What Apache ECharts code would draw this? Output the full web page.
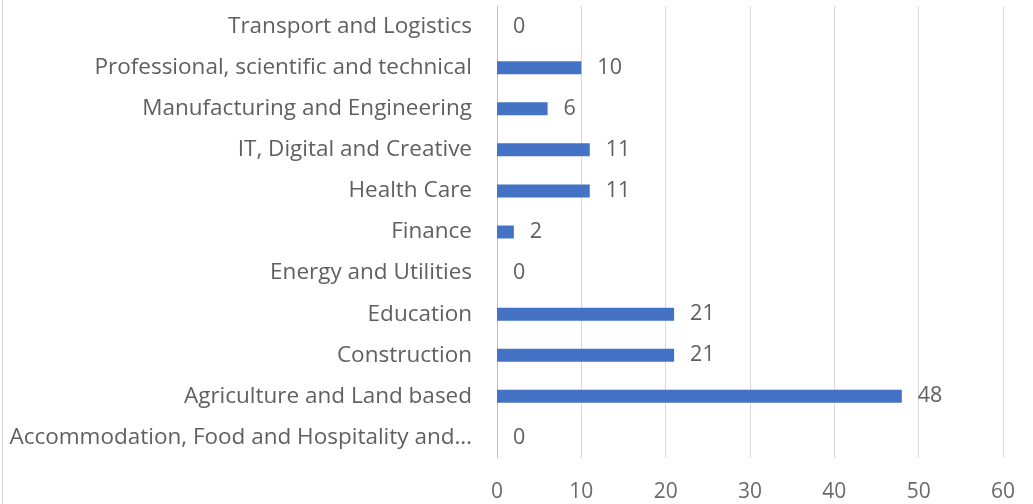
<!DOCTYPE html>
<html><head><meta charset="utf-8">
<script src="https://cdn.jsdelivr.net/npm/echarts@6/dist/echarts.min.js"></script>
<style>html,body{margin:0;padding:0;background:#fff}#c{width:1033px;height:504px}</style>
</head><body><div id="c"></div>
<script>
var categories = ["Accommodation, Food and Hospitality and\u2026","Agriculture and Land based","Construction","Education","Energy and Utilities","Finance","Health Care","IT, Digital and Creative","Manufacturing and Engineering","Professional, scientific and technical","Transport and Logistics"];
var values = [0,48,21,21,0,2,11,11,6,10,0];
var xTicks = [0,10,20,30,40,50,60];

var chart = echarts.init(document.getElementById('c'));
var font = 'Open Sans';
chart.setOption({
  animation:false,
  graphic:[{type:'line',shape:{x1:2.5,y1:0,x2:2.5,y2:504},style:{stroke:'#d9d9d9',lineWidth:1}}],
  grid:{left:497,right:30,top:6,bottom:46,containLabel:false},
  xAxis:{type:'value',min:xTicks[0],max:xTicks[xTicks.length-1],interval:10,
    axisLine:{show:false},axisTick:{show:false},
    splitLine:{lineStyle:{color:'#d9d9d9',width:1}},
    axisLabel:{color:'#6a6a6a',fontFamily:font,fontSize:21,margin:24}},
  yAxis:{type:'category',data:categories,
    axisLine:{show:true,lineStyle:{color:'#bfbfbf'}},axisTick:{show:false},
    axisLabel:{color:'#606060',fontFamily:font,fontSize:22.5,margin:25}},
  series:[{type:'bar',data:values,barWidth:13,itemStyle:{color:'#4472C4'},
    label:{show:true,position:'right',distance:16,color:'#606060',fontFamily:font,fontSize:21.5}}]
});
</script></body></html>
